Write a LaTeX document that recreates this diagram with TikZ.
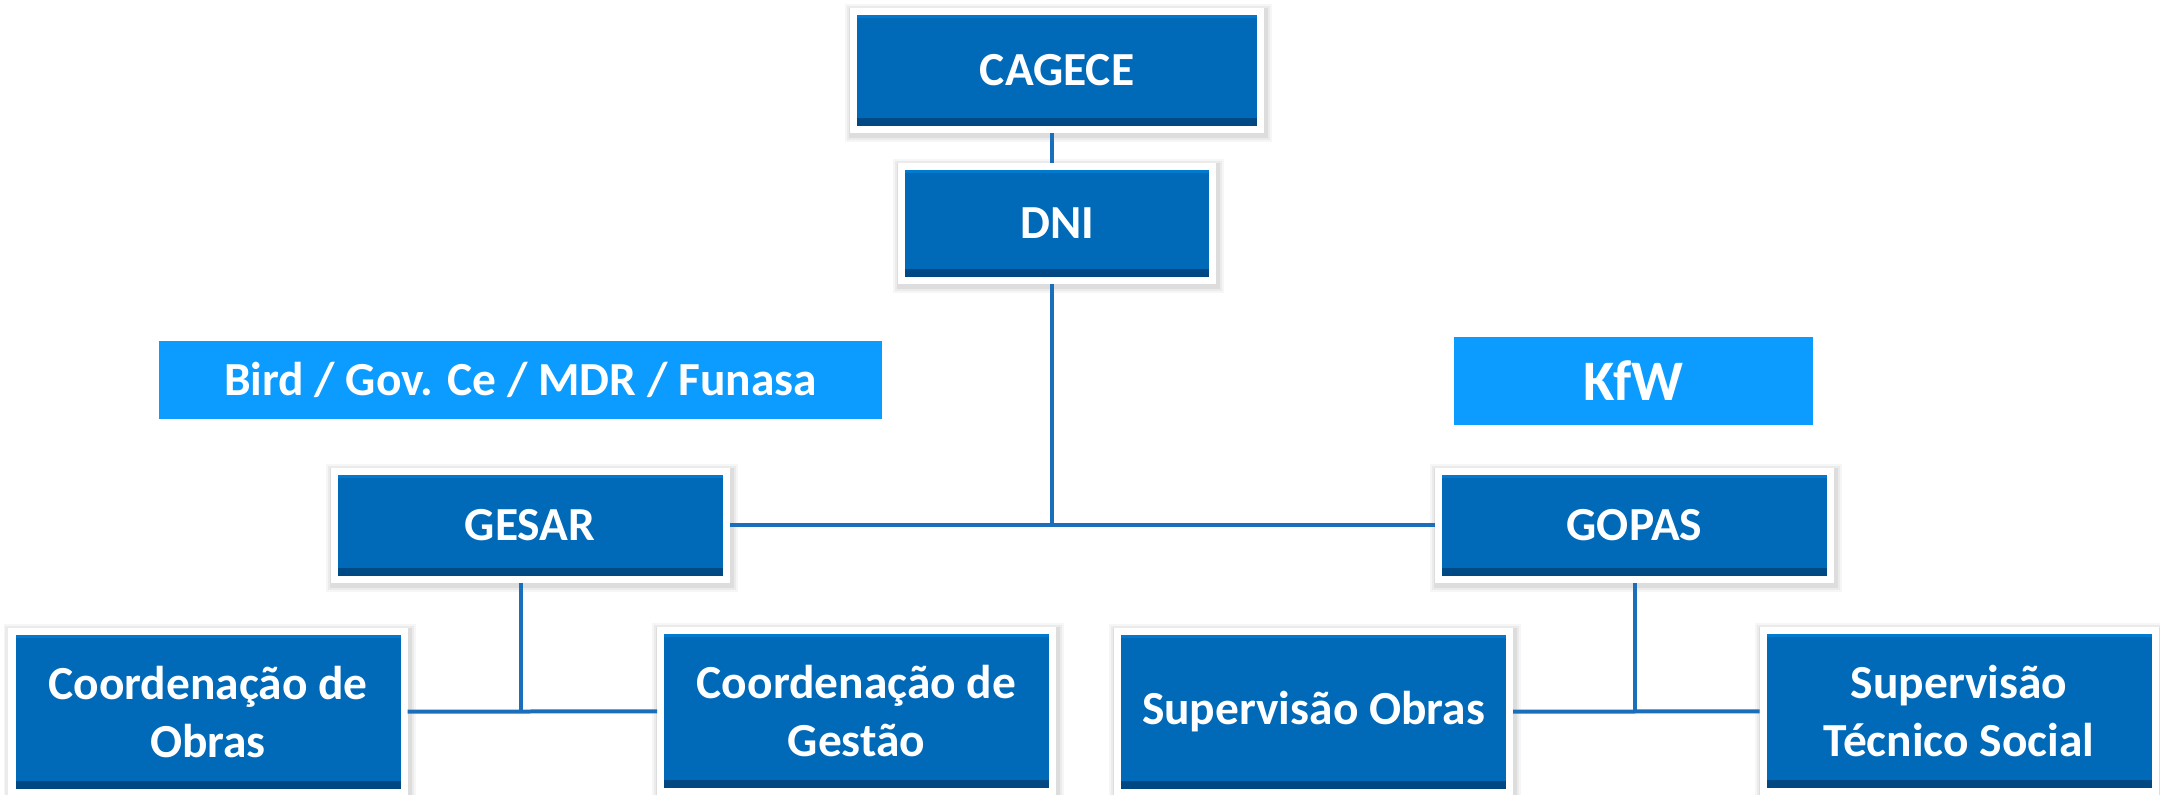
\documentclass[tikz,border=0pt]{standalone}
\usepackage{fontspec}
\setmainfont{Carlito}

\definecolor{orgblue}{RGB}{0,106,184}
\definecolor{orgdark}{RGB}{0,70,128}
\definecolor{orgtop}{RGB}{0,122,206}
\definecolor{fundblue}{RGB}{12,156,255}
\definecolor{linkblue}{RGB}{26,110,186}

\tikzset{
  orgbox/.style={draw=white, line width=0.07cm, fill=orgblue, text=white,
    font=\fontsize{13.5}{16.5}\selectfont\bfseries, align=center, inner sep=0pt,
    minimum width=3.92cm, minimum height=1.08cm,
    preaction={draw=black, draw opacity=0.035, line width=0.2cm, transform canvas={xshift=0.015cm, yshift=-0.025cm}},
    preaction={draw=black, draw opacity=0.045, line width=0.16cm, transform canvas={xshift=0.015cm, yshift=-0.025cm}},
    preaction={draw=black, draw opacity=0.06, line width=0.12cm, transform canvas={xshift=0.015cm, yshift=-0.025cm}},
    path picture={
      \shade[top color=orgblue, bottom color=orgdark] ([yshift=0.11cm]path picture bounding box.south west) rectangle (path picture bounding box.south east);
      \fill[orgtop] ([yshift=-0.07cm]path picture bounding box.north west) rectangle (path picture bounding box.north east);
    }},
  lowbox/.style={orgbox, minimum height=1.61cm},
  fundbox/.style={fill=fundblue, text=white, inner sep=0pt,
    font=\fontsize{13.5}{16.5}\selectfont\bfseries},
  orglink/.style={draw=linkblue, line width=0.04cm},
}

\begin{document}
\begin{tikzpicture}
\useasboundingbox (0,0) rectangle (21.6,-7.95);

% top of the chart
\node[orgbox, minimum width=4.07cm, minimum height=1.18cm] (cagece) at (10.57,-0.705) {CAGECE};
\node[orgbox, minimum width=3.11cm, minimum height=1.14cm] (dni) at (10.57,-2.235) {DNI};

% funding sources
\node[fundbox, minimum width=7.23cm, minimum height=0.78cm] (bird) at (5.205,-3.80) {Bird / Gov. Ce / MDR / Funasa};
\node[fundbox, minimum width=3.59cm, minimum height=0.88cm, font=\fontsize{16.3}{19}\selectfont\bfseries] (kfw) at (16.335,-3.81) {KfW};

% managements
\node[orgbox] (gesar) at (5.30,-5.255) {GESAR};
\node[orgbox] (gopas) at (16.345,-5.255) {GOPAS};

% bottom row
\node[lowbox] (coordobras) at (2.08,-7.12) {Coordenação de\\Obras};
\node[lowbox] (coordgestao) at (8.565,-7.11) {Coordenação de\\Gestão};
\node[lowbox] (supobras) at (13.135,-7.12) {Supervisão Obras};
\node[lowbox] (suptecnico) at (19.59,-7.11) {Supervisão\\Técnico Social};

% connectors
\draw[orglink] ([xshift=-0.05cm]cagece.south) -- ([xshift=-0.05cm]dni.north);
\draw[orglink] (gesar) -- (gopas);
\draw[orglink] ([xshift=-0.05cm]dni.south) -- ([xshift=-0.05cm]dni.south |- gesar);
\draw[orglink] (coordobras) -- (coordgestao);
\draw[orglink] ([xshift=-0.09cm]gesar.south) -- ([xshift=-0.09cm]gesar.south |- coordobras);
\draw[orglink] (supobras) -- (suptecnico);
\draw[orglink] (gopas) -- (gopas |- supobras);

\end{tikzpicture}
\end{document}
